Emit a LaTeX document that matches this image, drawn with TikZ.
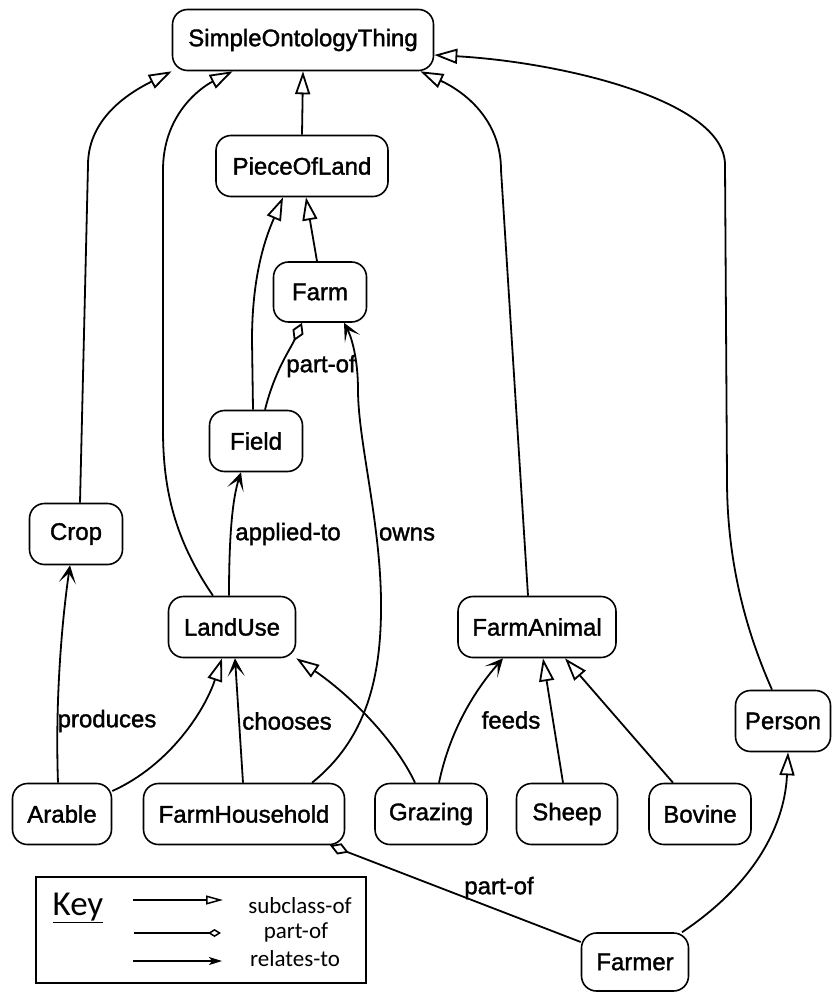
\documentclass[tikz,border=0pt]{standalone}
\usepackage{fontspec}
\setmainfont{Liberation Sans}
\newfontfamily\nodefont{Liberation Sans}[FakeBold=1.5]
\newfontfamily\keyfont{Carlito}
\usetikzlibrary{arrows.meta}
\tikzset{
  box/.style={draw,line width=1.6pt,rounded corners=15pt,minimum height=61pt,inner sep=0pt,font=\nodefont\fontsize{24}{28}\selectfont},
  conn/.style={line width=1.8pt},
  sub/.style={conn,arrows={-Triangle[length=23pt,width=15pt,fill=white]}},
  prt/.style={conn,arrows={-Diamond[length=20pt,width=12pt,fill=white]}},
  rel/.style={conn,arrows={-Stealth[length=18pt,width=17pt,inset=10pt]}},
  lbl/.style={font=\nodefont\fontsize{24}{28}\selectfont,inner sep=0pt},
  keylbl/.style={font=\keyfont\fontsize{23}{26}\selectfont,inner sep=0pt},
  keyconn/.style={line width=1.5pt},
}
\begin{document}
\begin{tikzpicture}[x=1pt,y=-1pt]
\useasboundingbox (0,0) rectangle (831,992);

% nodes
\node[box,minimum width=261pt] (SOT) at (303,40) {SimpleOntologyThing};
\node[box,minimum width=172pt] (POL) at (302,166) {PieceOfLand};
\node[box,minimum width=93pt,minimum height=60pt] (Farm) at (320,292) {Farm};
\node[box,minimum width=93pt] (Field) at (256,441) {Field};
\node[box,minimum width=93pt] (Crop) at (76,534) {Crop};
\node[box,minimum width=127pt] (LandUse) at (232,627) {LandUse};
\node[box,minimum width=158pt] (FarmAnimal) at (537,627) {FarmAnimal};
\node[box,minimum width=95pt] (Person) at (783,721) {Person};
\node[box,minimum width=99pt] (Arable) at (62,814) {Arable};
\node[box,minimum width=201pt] (FH) at (244,814) {FarmHousehold};
\node[box,minimum width=112pt] (Grazing) at (431,814) {Grazing};
\node[box,minimum width=101pt] (Sheep) at (567,814) {Sheep};
\node[box,minimum width=102pt] (Bovine) at (700,814) {Bovine};
\node[box,minimum width=107pt,minimum height=58pt] (Farmer) at (635,962) {Farmer};

% subclass-of edges
\draw[sub] ([xshift=4pt]Crop.north) -- (88,165) .. controls (88,115) and (135,90) .. (SOT.south west);
\draw[sub] ([xshift=-19pt]LandUse.north) .. controls (175,540) and (163,490) .. (163,430) -- (163,170) .. controls (163,115) and (200,88) .. ([xshift=61pt]SOT.south west);
\draw[sub] (POL.north) -- (SOT.south);
\draw[sub] ([xshift=-9pt]FarmAnimal.north) -- (501,170) .. controls (501,120) and (465,92) .. ([xshift=-14pt]SOT.south east);
\draw[sub] ([xshift=-11pt]Person.north) .. controls (750,640) and (727,570) .. (727,480) -- (725,165) .. controls (725,100) and (560,62) .. ([yshift=-15pt]SOT.east);
\draw[sub] ([xshift=-3pt]Farm.north) -- ([xshift=4pt]POL.south);
\draw[sub] ([xshift=-3pt]Field.north) -- (252,340) .. controls (252,270) and (268,232) .. ([xshift=-19pt]POL.south);
\draw[sub] ([yshift=23pt]Arable.east) .. controls (170,765) and (205,710) .. ([xshift=-10pt]LandUse.south);
\draw[sub] ([xshift=-16pt]Grazing.north) .. controls (395,740) and (350,695) .. (LandUse.south east);
\draw[sub] ([xshift=-4pt]Sheep.north) -- ([xshift=6pt]FarmAnimal.south);
\draw[sub] ([xshift=-27pt]Bovine.north) -- ([xshift=28pt]FarmAnimal.south);
\draw[sub] ([xshift=47pt]Farmer.north) .. controls (760,880) and (785,820) .. ([xshift=5pt]Person.south);

% part-of edges
\draw[prt] ([xshift=9pt]Field.north) .. controls (275,370) and (290,350) .. ([xshift=-18pt]Farm.south);
\node[lbl] (lpart1) at (321,366) {part-of};
\draw[prt] ([yshift=20pt]Farmer.west) -- ([xshift=86pt]FH.south);
\node[lbl] (lpart2) at (499,888) {part-of};

% relates-to edges
\draw[rel] ([xshift=68pt]FH.north) .. controls (365,740) and (382,680) .. (381,600) .. controls (380,520) and (358,440) .. (358,390) .. controls (358,360) and (352,338) .. ([xshift=24pt]Farm.south);
\node[lbl] (lowns) at (407,534) {owns};
\draw[rel] ([xshift=-3pt]LandUse.north) .. controls (229,540) and (232,500) .. ([xshift=-15pt]Field.south);
\node[lbl] (lapp) at (288,534) {applied-to};
\draw[rel] ([xshift=-4pt]Arable.north) .. controls (55,700) and (62,620) .. ([xshift=-6pt]Crop.south);
\node[lbl] (lprod) at (107,721) {produces};
\draw[rel] ([xshift=-1pt]FH.north) -- ([xshift=3pt]LandUse.south);
\node[lbl] (lcho) at (287,721) {chooses};
\draw[rel] ([xshift=8pt]Grazing.north) .. controls (450,730) and (475,690) .. ([xshift=-34pt]FarmAnimal.south);
\node[lbl] (lfeeds) at (511,720) {feeds};

% key
\node[draw,line width=1.8pt,minimum width=330pt,minimum height=106pt,inner sep=0pt] (keybox) at (201,930) {};
\node[inner sep=0pt,font=\keyfont\fontsize{35}{40}\selectfont] (keyt) at (78,908) {\underline{Key}};
\coordinate (k1a) at (133,900); \coordinate (k1b) at (223,900);
\coordinate (k2a) at (134,933); \coordinate (k2b) at (221,933);
\coordinate (k3a) at (133,961); \coordinate (k3b) at (222,961);
\draw[keyconn,arrows={-Triangle[length=17pt,width=9pt,fill=white]}] (k1a) -- (k1b);
\draw[keyconn,arrows={-Diamond[length=13pt,width=8pt,fill=white]}] (k2a) -- (k2b);
\draw[keyconn,arrows={-Stealth[length=13pt,width=8pt,inset=3pt]}] (k3a) -- (k3b);
\node[keylbl] (ks) at (300,906) {subclass-of};
\node[keylbl] (kp) at (296,932) {part-of};
\node[keylbl] (kr) at (295,959) {relates-to};
\end{tikzpicture}
\end{document}
